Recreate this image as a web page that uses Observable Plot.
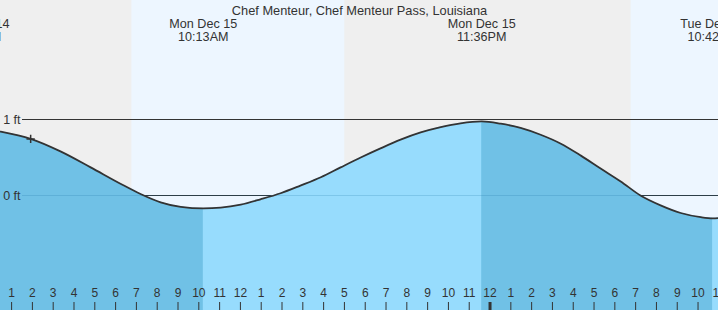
<!DOCTYPE html>
<html><head><meta charset="utf-8">
<script src="https://cdn.jsdelivr.net/npm/d3@7"></script>
<script src="https://cdn.jsdelivr.net/npm/@observablehq/plot@0.6"></script>
<style>
body{margin:0;background:#fff;}
#chart svg{display:block;}
</style>
</head><body><div id="chart"></div>
<script>
const title = "Chef Menteur, Chef Menteur Pass, Louisiana";

// visible time window
const xDomain = ["2025-12-15T00:28", "2025-12-16T10:59"];
const yDomain = [-1.513, 2.566];

// tide heights (ft)
const tideTimes = [
  "2025-12-14T23:19","2025-12-15T00:28","2025-12-15T01:55","2025-12-15T03:21","2025-12-15T04:48",
  "2025-12-15T06:14","2025-12-15T07:12","2025-12-15T08:10","2025-12-15T09:08","2025-12-15T10:13",
  "2025-12-15T11:03","2025-12-15T12:01","2025-12-15T12:58","2025-12-15T13:56","2025-12-15T14:53",
  "2025-12-15T15:52","2025-12-15T16:49","2025-12-15T17:47","2025-12-15T18:44","2025-12-15T19:42",
  "2025-12-15T20:40","2025-12-15T21:38","2025-12-15T22:35","2025-12-15T23:36","2025-12-16T00:31",
  "2025-12-16T01:28","2025-12-16T02:26","2025-12-16T03:23","2025-12-16T04:22","2025-12-16T05:19",
  "2025-12-16T06:17","2025-12-16T07:14","2025-12-16T08:12","2025-12-16T09:10","2025-12-16T10:08",
  "2025-12-16T10:42","2025-12-16T11:20"
];
const tideHeights = [
  0.89, 0.84, 0.745, 0.58, 0.37,
  0.155, 0.02, -0.09, -0.15, -0.17,
  -0.16, -0.12, -0.05, 0.03, 0.13,
  0.24, 0.37, 0.50, 0.62, 0.735,
  0.83, 0.90, 0.95, 0.975, 0.945,
  0.89, 0.80, 0.685, 0.525, 0.355,
  0.185, 0.00, -0.13, -0.23, -0.285,
  -0.30, -0.29
];

// high / low events
const extremeTimes = ["2025-12-14T23:19","2025-12-15T10:13","2025-12-15T23:36","2025-12-16T10:42"];
const extremeKinds = ["high","low","high","low"];
const extremeDays = ["Sun Dec 14","Mon Dec 15","Mon Dec 15","Tue Dec 16"];
const extremeClock = ["11:19PM","10:13AM","11:36PM","10:42AM"];

// daylight periods
const dayStarts = ["2025-12-15T06:47","2025-12-16T06:47"];
const dayEnds   = ["2025-12-15T17:01","2025-12-16T17:01"];

// y reference lines
const yRefValues = [1, 0];
const yRefLabels = ["1 ft", "0 ft"];

// hour tick labels
const hourLabels = ["1","2","3","4","5","6","7","8","9","10","11","12",
                    "1","2","3","4","5","6","7","8","9","10","11","12",
                    "1","2","3","4","5","6","7","8","9","10","11"];

// current-time marker
const nowTime = "2025-12-15T01:55";
const nowHeight = 0.745;

const colors = {night:"#efefef", day:"#edf6ff", rise:"#97dcfd", fall:"#70c1e6", ink:"#333333"};

const parse = d3.utcParse("%Y-%m-%dT%H:%M");
const xd = xDomain.map(parse);
const tide = tideTimes.map((t,i)=>({t: parse(t), v: tideHeights[i], base: yDomain[0]}));
const days = dayStarts.map((s,i)=>({x1: parse(s), x2: parse(dayEnds[i])}));
const events = extremeTimes.map((t,i)=>({t: parse(t), kind: extremeKinds[i], day: extremeDays[i], clock: extremeClock[i]}));
const hours = d3.utcHour.range(d3.utcHour.ceil(xd[0]), d3.utcMinute.offset(xd[1], 2)).map((d,i)=>({t:d, label: hourLabels[i], midnight: d.getUTCHours()===0}));
const yRefs = yRefValues.map((v,i)=>({v, label: yRefLabels[i]}));
const titleRow = [{t: new Date((+xd[0] + +xd[1]) / 2), text: title}];

const plot = Plot.plot({
  width: 718, height: 310,
  marginTop: 0, marginBottom: 0, marginLeft: 0, marginRight: 0,
  x: {type: "utc", domain: xd, axis: null},
  y: {domain: yDomain, axis: null},
  style: {fontFamily: "'Liberation Sans', Arial, sans-serif", fontSize: "12px", background: colors.night},
  marks: [
    Plot.rectX(days, {x1: "x1", x2: "x2", fill: colors.day}),
    Plot.ruleY(yRefs, {y: "v", stroke: colors.ink, strokeWidth: 1, insetLeft: 22}),
    Plot.areaY(tide, {x: "t", y1: "base", y2: "v", fill: colors.rise, curve: "monotone-x", className: "rise-area"}),
    Plot.areaY(tide, {x: "t", y1: "base", y2: "v", fill: colors.fall, curve: "monotone-x", className: "fall-area"}),
    Plot.ruleY(yRefs.filter(d=>d.v===0), {y: "v", stroke: "#1a6fa0", strokeOpacity: 0.2, strokeWidth: 1, insetLeft: 22}),
    Plot.line(tide, {x: "t", y: "v", stroke: colors.ink, strokeWidth: 1.8, curve: "monotone-x"}),
    Plot.text(yRefs, {y: "v", text: "label", frameAnchor: "left", dx: 20, textAnchor: "end", fill: colors.ink, fontSize: 12.5}),
    Plot.dot([{t: parse(nowTime), v: nowHeight}], {x: "t", y: "v", symbol: "plus", r: 2.8, stroke: colors.ink, strokeWidth: 1.5}),
    Plot.text(titleRow, {x: "t", text: "text", frameAnchor: "top", dy: 5, fill: colors.ink, fontSize: 12.8}),
    Plot.text(events, {x: "t", text: "day", frameAnchor: "top", dy: 19, fill: colors.ink, fontSize: 12.6}),
    Plot.text(events, {x: "t", text: "clock", frameAnchor: "top", dy: 32, fill: colors.ink, fontSize: 12.6}),
    Plot.tickX(hours.filter(d=>!d.midnight), {x: "t", stroke: colors.ink, strokeWidth: 1, insetTop: 302}),
    Plot.tickX(hours.filter(d=>d.midnight), {x: "t", stroke: colors.ink, strokeWidth: 3, insetTop: 302}),
    Plot.text(hours, {x: "t", text: "label", frameAnchor: "bottom", dy: -14, fill: colors.ink, fontSize: 12})
  ]
});

// restrict the falling-tide colour to the falling periods, using the x scale
const xs = plot.scale("x");
const fallRanges = [[d3.utcHour.offset(xd[0], -3), events[1].t], [events[2].t, events[3].t]];
const ns = "http://www.w3.org/2000/svg";
const defs = document.createElementNS(ns, "defs");
const cp = document.createElementNS(ns, "clipPath");
cp.setAttribute("id", "fall-clip");
cp.setAttribute("clipPathUnits", "userSpaceOnUse");
for (const [a, b] of fallRanges) {
  const r = document.createElementNS(ns, "rect");
  const xa = xs.apply(a), xb = xs.apply(b);
  r.setAttribute("x", xa);
  r.setAttribute("width", xb - xa);
  r.setAttribute("y", 0);
  r.setAttribute("height", 310);
  cp.appendChild(r);
}
defs.appendChild(cp);
plot.insertBefore(defs, plot.firstChild);
const fallG = plot.querySelector("g.fall-area") || plot.querySelectorAll('g[aria-label="area"]')[1];
if (fallG) fallG.setAttribute("clip-path", "url(#fall-clip)");

document.getElementById("chart").appendChild(plot);
</script>
</body></html>
